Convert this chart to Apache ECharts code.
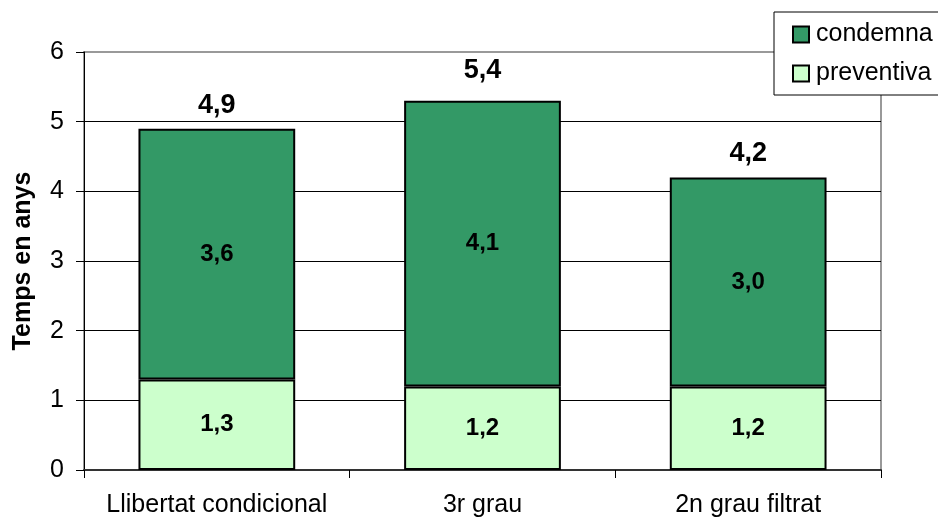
<!DOCTYPE html>
<html><head><meta charset="utf-8">
<script src="https://cdn.jsdelivr.net/npm/echarts@6/dist/echarts.min.js"></script>
<style>html,body{margin:0;padding:0;background:#fff}#c{width:938px;height:519px}</style>
</head><body><div id="c"></div>
<script>
const categories = ['Llibertat condicional', '3r grau', '2n grau filtrat'];
const preventiva = [1.3, 1.2, 1.2];
const condemna = [3.6, 4.1, 3.0];
const totals = [4.9, 5.4, 4.2];
const yTicks = [0, 1, 2, 3, 4, 5, 6];

const fmt = v => v.toFixed(1).replace('.', ',');
const chart = echarts.init(document.getElementById('c'), null, {renderer: 'canvas'});
const FONT = '"Liberation Sans", Arial, sans-serif';
chart.setOption({
  animation: false,
  textStyle: {fontFamily: FONT},
  grid: {left: 84, right: 57, top: 52, bottom: 49, show: true, borderColor: '#999', borderWidth: 2, backgroundColor: '#fff'},
  legend: {
    orient: 'vertical', left: 774, top: 12,
    data: ['condemna', 'preventiva'],
    itemWidth: 16, itemHeight: 16, itemGap: 14,
    padding: [10, 40, 9, 18],
    borderColor: '#000', borderWidth: 1, backgroundColor: '#fff',
    textStyle: {fontSize: 25, color: '#000', fontFamily: FONT, padding: [0, 0, 0, 2]},
    icon: 'rect'
  },
  xAxis: {
    type: 'category', data: categories,
    axisLine: {lineStyle: {color: '#333', width: 2}},
    axisTick: {show: true, length: 8, lineStyle: {color: '#000'}},
    axisLabel: {fontSize: 25, color: '#000', margin: 23, interval: 0, fontFamily: FONT}
  },
  yAxis: {
    type: 'value', min: yTicks[0], max: yTicks[yTicks.length - 1], interval: 1,
    name: 'Temps en anys', nameLocation: 'middle', nameGap: 48, nameRotate: 90,
    nameTextStyle: {fontSize: 25, fontWeight: 'bold', color: '#000', fontFamily: FONT},
    axisLine: {show: true, lineStyle: {color: '#000', width: 1}},
    axisTick: {show: true, length: 8, lineStyle: {color: '#000'}},
    axisLabel: {fontSize: 25, color: '#000', margin: 20, fontFamily: FONT},
    splitLine: {showMaxLine: false, lineStyle: {color: '#000', width: 1}}
  },
  series: [
    {
      name: 'preventiva', type: 'bar', stack: 't', data: preventiva, barWidth: '59%',
      itemStyle: {color: '#CCFFCC', borderColor: '#000', borderWidth: 2},
      label: {show: true, position: 'inside', formatter: p => fmt(p.value), fontSize: 24, fontWeight: 'bold', color: '#000', fontFamily: FONT}
    },
    {
      name: 'condemna', type: 'bar', stack: 't', data: condemna, barWidth: '59%',
      itemStyle: {color: '#339966', borderColor: '#000', borderWidth: 2},
      label: {show: true, position: 'inside', formatter: p => fmt(p.value), fontSize: 24, fontWeight: 'bold', color: '#000', fontFamily: FONT}
    },
    {
      name: 'total', type: 'bar', data: totals, barWidth: '59%', barGap: '-100%', silent: true, z: 1,
      itemStyle: {color: 'rgba(0,0,0,0)', borderWidth: 0},
      label: {show: true, position: 'top', distance: 10, formatter: p => fmt(p.value), fontSize: 27, fontWeight: 'bold', color: '#000', fontFamily: FONT}
    }
  ]
});
</script></body></html>
